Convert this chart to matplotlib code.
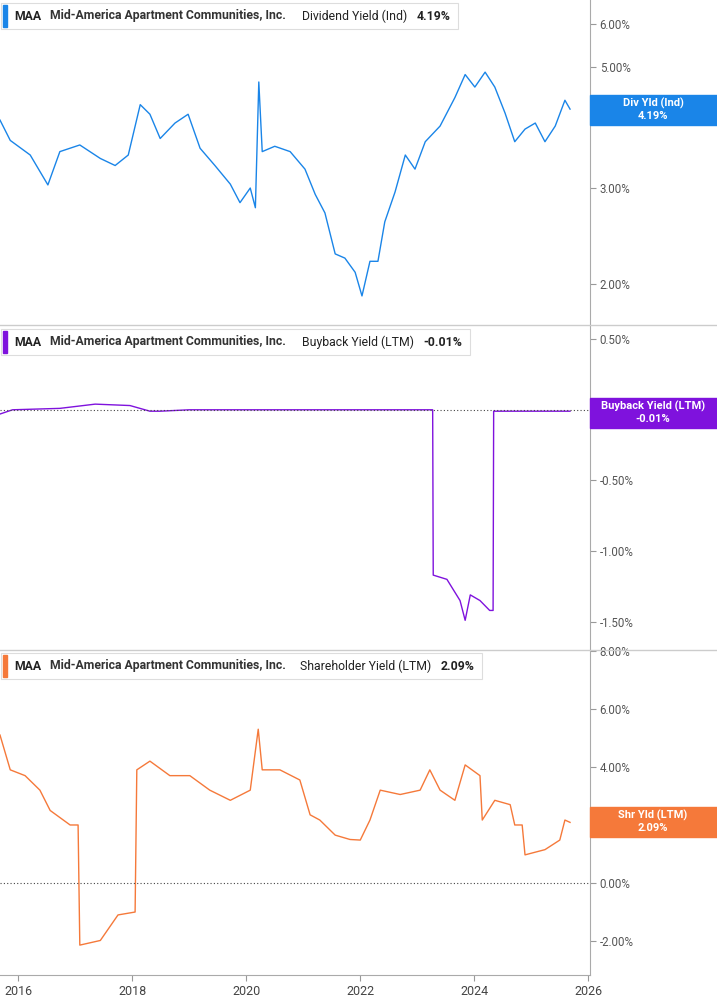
import matplotlib
matplotlib.use("Agg")
import matplotlib.pyplot as plt
from matplotlib.patches import Rectangle
import numpy as np

plt.rcParams["font.family"] = "Roboto"

# ---- data (decimal years, percent values) ----
div_t = [2015.68,2015.86,2016.21,2016.52,2016.73,2017.08,2017.44,2017.70,2017.93,2018.14,2018.31,2018.49,2018.75,2018.98,2019.19,2019.45,2019.72,2019.89,2020.07,2020.16,2020.22,2020.28,2020.50,2020.77,2021.03,2021.21,2021.38,2021.56,2021.73,2021.91,2022.03,2022.17,2022.31,2022.43,2022.61,2022.79,2022.96,2023.14,2023.40,2023.66,2023.84,2024.01,2024.19,2024.36,2024.54,2024.71,2024.89,2025.07,2025.24,2025.42,2025.59,2025.68]
div_v = [4.00,3.67,3.45,3.04,3.50,3.60,3.40,3.30,3.45,4.27,4.10,3.70,3.95,4.10,3.55,3.30,3.05,2.82,3.00,2.76,4.70,3.50,3.58,3.50,3.25,2.92,2.70,2.27,2.23,2.10,1.90,2.20,2.20,2.60,2.95,3.45,3.25,3.65,3.90,4.40,4.85,4.60,4.90,4.60,4.12,3.65,3.85,3.95,3.65,3.90,4.35,4.19]

bb_t = [2015.68,2015.90,2016.73,2017.35,2017.96,2018.31,2018.49,2019.00,2021.00,2023.27,2023.28,2023.52,2023.75,2023.84,2023.93,2024.10,2024.27,2024.33,2024.34,2025.68]
bb_v = [-0.03,0.00,0.01,0.04,0.03,-0.01,-0.01,0.00,0.00,0.00,-1.17,-1.20,-1.35,-1.49,-1.31,-1.35,-1.42,-1.42,-0.01,-0.01]

shy_t = [2015.68,2015.86,2016.12,2016.38,2016.56,2016.91,2017.05,2017.08,2017.44,2017.75,2018.05,2018.08,2018.31,2018.66,2019.01,2019.36,2019.72,2020.07,2020.21,2020.28,2020.59,2020.94,2021.12,2021.29,2021.56,2021.82,2022.00,2022.17,2022.35,2022.70,2023.05,2023.22,2023.40,2023.66,2023.84,2024.10,2024.14,2024.36,2024.63,2024.71,2024.84,2024.89,2025.24,2025.50,2025.59,2025.68]
shy_v = [5.10,3.90,3.70,3.20,2.50,2.00,2.00,-2.14,-1.98,-1.10,-1.00,3.90,4.20,3.70,3.70,3.20,2.85,3.20,5.30,3.90,3.90,3.55,2.35,2.17,1.65,1.50,1.48,2.17,3.20,3.05,3.20,3.90,3.20,2.85,4.07,3.70,2.17,2.85,2.70,2.00,2.00,0.97,1.15,1.48,2.17,2.09]

year_ticks = [2016,2018,2020,2022,2024,2026]

W, H = 717, 1005
fig = plt.figure(figsize=(W/100, H/100), dpi=100)
XL = (2015.68, 2026.03)
PW = 590/W

def fy(py):  # pixel y -> fig frac
    return 1 - py/H

def panel(top, bot, t, v, color, ylim, ticks, tlabels, logy=False, zero=False):
    ax = fig.add_axes([0, fy(bot), PW, (bot-top)/H])
    if logy:
        ax.set_yscale("log")
    ax.plot(t, v, color=color, lw=1.0)
    if zero:
        ax.axhline(0, color="#444444", lw=0.8, ls=(0, (1, 2)))
    ax.set_xlim(*XL)
    ax.set_ylim(*ylim)
    ax.yaxis.tick_right()
    ax.set_yticks(ticks)
    ax.set_yticklabels(tlabels)
    ax.yaxis.set_minor_locator(matplotlib.ticker.NullLocator())
    ax.tick_params(axis="y", length=4, color="#999999", labelsize=8.3, labelcolor="#555555", pad=3)
    ax.set_xticks([])
    for s in ["top", "left", "bottom"]:
        ax.spines[s].set_visible(False)
    ax.spines["right"].set_color("#aaaaaa")
    return ax

def header(py, name, val, color):
    x2 = 302 if "Div" in name or "Buy" in name else 300
    fig.canvas.draw()
    t = fig.text(x2/W, fy(py), name + "   ", fontsize=8.8, va="center", color="#222222", zorder=6)
    fig.canvas.draw()
    bb = t.get_window_extent()
    v = fig.text(bb.x1/W, fy(py), val, fontsize=8.8, fontweight="bold", va="center", color="#222222", zorder=6)
    fig.canvas.draw()
    right = v.get_window_extent().x1 + 8
    fig.patches.append(Rectangle((1/W, fy(py+13)), (right-1)/W, 26/H, transform=fig.transFigure,
                                 facecolor="white", edgecolor="#dddddd", lw=0.8, zorder=4))
    fig.patches.append(Rectangle((3/W, fy(py+11)), 4/W, 22/H, transform=fig.transFigure, color=color, zorder=5))
    fig.text(14/W, fy(py), "MAA", fontsize=8.8, fontweight="bold", va="center", color="#222222", zorder=6)
    fig.text(50/W, fy(py), "Mid-America Apartment Communities, Inc.", fontsize=8.8, fontweight="bold", va="center", color="#333333", zorder=6)

def vbox(pyc, l1, l2, color):
    fig.patches.append(Rectangle((590/W, fy(pyc+15)), 127/W, 30/H, transform=fig.transFigure, color=color, zorder=5))
    fig.text(653/W, fy(pyc-7), l1, fontsize=8, fontweight="bold", color="white", ha="center", va="center", zorder=6)
    fig.text(653/W, fy(pyc+6), l2, fontsize=8, fontweight="bold", color="white", ha="center", va="center", zorder=6)

a1 = panel(0, 325, div_t, div_v, "#1a85e8", (1.68, 6.65), [2, 3, 4, 5, 6],
           ["2.00%", "3.00%", "4.00%", "5.00%", "6.00%"], logy=True)
a2 = panel(325, 650, bb_t, bb_v, "#7f12dd", (-1.70, 0.60), [0.5, -0.5, -1.0, -1.5],
           ["0.50%", "-0.50%", "-1.00%", "-1.50%"], zero=True)
a3 = panel(650, 975, shy_t, shy_v, "#f5793a", (-3.17, 8.03), [8, 6, 4, 2, 0, -2],
           ["8.00%", "6.00%", "4.00%", "2.00%", "0.00%", "-2.00%"], zero=True)
a3.set_xticks(year_ticks)
a3.set_xticklabels([str(y) for y in year_ticks])
a3.tick_params(axis="x", length=4, color="#999999", labelsize=9, labelcolor="#444444", pad=3)
a3.spines["bottom"].set_visible(True)
a3.spines["bottom"].set_color("#aaaaaa")

for py in (325, 650):
    fig.add_artist(plt.Line2D([0, 1], [fy(py), fy(py)], transform=fig.transFigure, color="#cccccc", lw=1))

header(16, "Dividend Yield (Ind)", "4.19%", "#1a85e8")
header(342, "Buyback Yield (LTM)", "-0.01%", "#7f12dd")
header(666, "Shareholder Yield (LTM)", "2.09%", "#f5793a")

vbox(110, "Div Yld (Ind)", "4.19%", "#1a85e8")
vbox(413, "Buyback Yield (LTM)", "-0.01%", "#7f12dd")
vbox(822, "Shr Yld (LTM)", "2.09%", "#f5793a")

fig.savefig("out.png", dpi=100)
